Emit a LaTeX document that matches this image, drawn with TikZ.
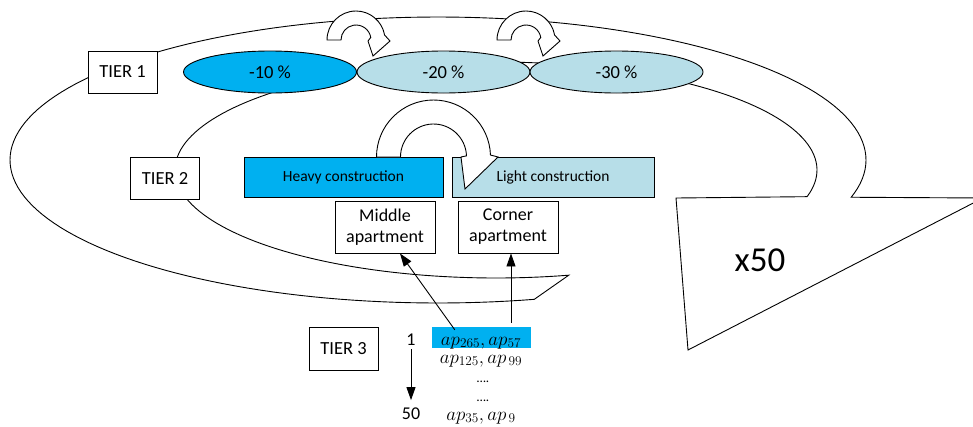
\documentclass[tikz,border=0pt]{standalone}
\usepackage{fix-cm}
\usepackage{fontspec}
\setmainfont{Carlito}
\usetikzlibrary{arrows.meta,calc,shapes.geometric}
\definecolor{brightblue}{HTML}{00B0F0}
\definecolor{paleblue}{HTML}{B7DEE8}
\begin{document}
\begin{tikzpicture}[x=1pt,y=-1pt,
  lineblk/.style={draw=black,line width=0.9pt},
  tierbox/.style={lineblk,fill=white,minimum width=69pt,minimum height=42pt,inner sep=0pt,font=\fontsize{18.5}{21}\selectfont},
  pct/.style={ellipse,lineblk,minimum width=173pt,minimum height=42pt,inner sep=0pt,font=\fontsize{18.5}{21}\selectfont},
  constr/.style={rectangle,lineblk,minimum height=40pt,inner sep=0pt,font=\fontsize{15.5}{18}\selectfont},
  aptbox/.style={lineblk,fill=white,minimum width=100pt,minimum height=52pt,inner sep=0pt,align=center,font=\fontsize{18}{21}\selectfont},
  blockarrow/.style={lineblk,fill=white,line join=miter},
  band/.style={draw=black,line width=0.9pt,line join=miter},
  arr/.style={line width=0.9pt,-{Triangle[length=13pt,width=9pt]}},
  mathtxt/.style={anchor=base,inner sep=0pt,font=\fontsize{19}{22}\selectfont},
  plain/.style={anchor=base,inner sep=0pt,font=\fontsize{18}{21}\selectfont}
]
\useasboundingbox (0,0) rectangle (973,426);
\clip (0,0) rectangle (973,426);

% big circular block arrow (x50)
\draw[band] plot[domain=77:375.1,samples=160] ({438+428*cos(\x)},{160+143*sin(\x)})
  -- (983,198) -- (688,350) -- (676,198)
  -- plot[domain=374.3:76.9,samples=160] ({496+321*cos(\x)},{170+108*sin(\x)}) -- cycle;
\node[font=\fontsize{35}{40}\selectfont] (x50) at (760,260) {x50};

% tier 1 ellipses
\node[pct,fill=brightblue] (p10) at (270,72) {-10 \%};
\node[pct,fill=paleblue] (p20) at (443.5,72) {-20 \%};
\node[pct,fill=paleblue] (p30) at (616.5,72) {-30 \%};

% tier boxes
\node[tierbox] (t1) at (122.5,72) {TIER 1};
\node[tierbox] (t2) at (165,178) {TIER 2};
\node[tierbox,minimum height=43pt] (t3) at (343.5,348.5) {TIER 3};

% small U-turn arrows
\draw[blockarrow] (327,40) arc[start angle=180,end angle=350,radius=29]
  -- (390,41) -- (373,56) -- (368,41) -- (370.77,37.4)
  arc[start angle=350,end angle=180,radius=15] -- cycle;
\begin{scope}[shift={(170,0)}]
\draw[blockarrow] (327,40) arc[start angle=180,end angle=350,radius=29]
  -- (390,41) -- (373,56) -- (368,41) -- (370.77,37.4)
  arc[start angle=350,end angle=180,radius=15] -- cycle;
\end{scope}

% tier 2 construction boxes
\node[constr,fill=brightblue,minimum width=199pt] (heavy) at (343.5,177) {Heavy construction};
\node[constr,fill=paleblue,minimum width=202pt] (light) at (553,177) {Light construction};

% large U-turn arrow
\draw[blockarrow] (376.5,157) arc[start angle=180,end angle=358,radius=57]
  -- (498,157) -- (465,189) -- (461,157) -- ({433.5+33*cos(358)},{157+33*sin(358)})
  arc[start angle=358,end angle=180,radius=33] -- cycle;

% apartments
\node[aptbox] (mid) at (385,227) {Middle\\apartment};
\node[aptbox] (corner) at (508,227) {Corner\\apartment};

% tier 3 list
\node[fill=brightblue,minimum width=99pt,minimum height=21pt,inner sep=0pt] (hl) at (481.5,337.5) {};
\draw[arr] ($(hl.north west)+(23,3)$) -- ($(mid.south)+(15,0)$);
\draw[arr] ($(hl.north)+(29.5,-4)$) -- ($(corner.south)+(3,0)$);
\node[mathtxt] (r1) at (481,345) {$ap_{265}, ap_{57}$};
\node[mathtxt] (r2) at (481,363) {$ap_{125}, ap_{\,99}$};
\node[anchor=base,inner sep=0pt,font=\fontsize{13}{15}\selectfont] (d1) at (483,382) {….};
\node[anchor=base,inner sep=0pt,font=\fontsize{13}{15}\selectfont] (d2) at (483,401) {….};
\node[mathtxt] (r5) at (481,420) {$ap_{35}, ap_{\,9}$};

\node[plain] (one) at (411,345) {1};
\node[plain] (fifty) at (411,419) {50};
\draw[arr] ($(one.south)+(0,4)$) -- ($(fifty.north)+(0,-7)$);
\end{tikzpicture}
\end{document}
